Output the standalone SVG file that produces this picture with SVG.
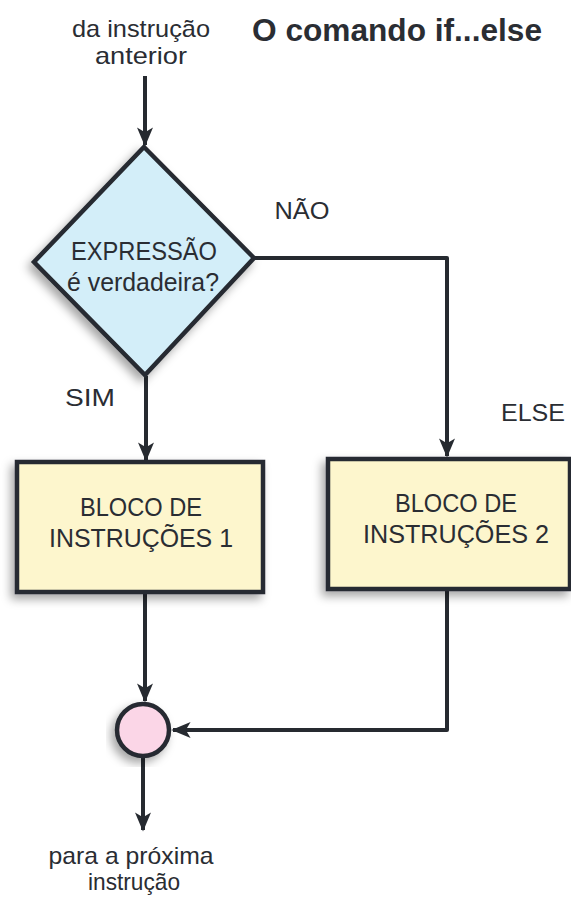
<svg xmlns="http://www.w3.org/2000/svg" width="571" height="900" viewBox="0 0 571 900">
<style>
text{font-family:"Liberation Sans",Arial,sans-serif;fill:#2a2d33;text-anchor:middle}
.lbl{font-size:24px}
.node{font-size:26px}
.ln{fill:none;stroke:#262a30;stroke-width:4;stroke-linejoin:round}
.shape{stroke:#262a30;stroke-width:4.5;filter:url(#sh)}
</style>
<defs>
<filter id="sh" x="-20%" y="-20%" width="140%" height="140%">
<feDropShadow dx="-4" dy="5" stdDeviation="5" flood-color="#000" flood-opacity="0.35"/>
</filter>
<marker id="ahb" viewBox="0 0 12 10" refX="11" refY="5" markerWidth="20" markerHeight="16" markerUnits="userSpaceOnUse" orient="auto">
<path d="M0,0 L12,5 L0,10 L3,5 z" fill="#262a30"/>
</marker>
</defs>
<text x="397" y="41" style="font-size:32px;font-weight:bold" textLength="290" lengthAdjust="spacingAndGlyphs">O comando if...else</text>
<g id="connectors">
<path class="ln" d="M145,76 V145" marker-end="url(#ahb)"/>
<path class="ln" d="M146,376 V460" marker-end="url(#ahb)"/>
<path class="ln" d="M255,258 H447 V456" marker-end="url(#ahb)"/>
<path class="ln" d="M145,593 V701" marker-end="url(#ahb)"/>
<path class="ln" d="M447,590 V730 H173" marker-end="url(#ahb)"/>
<path class="ln" d="M143,757 V830" marker-end="url(#ahb)"/>
</g>
<g id="start-label">
<text class="lbl" x="141" y="37" textLength="138" lengthAdjust="spacingAndGlyphs">da instrução</text>
<text class="lbl" x="141" y="64" textLength="92" lengthAdjust="spacingAndGlyphs">anterior</text>
</g>
<g id="decision">
<polygon class="shape" points="144,147 254,258 145,375 34,262" fill="#d3eef9"/>
<text class="node" x="144" y="260" textLength="146" lengthAdjust="spacingAndGlyphs">EXPRESSÃO</text>
<text class="node" x="143" y="291" textLength="152" lengthAdjust="spacingAndGlyphs">é verdadeira?</text>
</g>
<g id="label-nao"><text class="lbl" x="302" y="219" textLength="55" lengthAdjust="spacingAndGlyphs">NÃO</text></g>
<g id="label-sim"><text class="lbl" x="90" y="406" textLength="50" lengthAdjust="spacingAndGlyphs">SIM</text></g>
<g id="label-else"><text class="lbl" x="533" y="421" textLength="64" lengthAdjust="spacingAndGlyphs">ELSE</text></g>
<g id="block1">
<rect class="shape" x="17" y="462" width="246" height="130" fill="#fdf6cd"/>
<text class="node" x="141" y="516" textLength="122" lengthAdjust="spacingAndGlyphs">BLOCO DE</text>
<text class="node" x="141" y="547" textLength="184" lengthAdjust="spacingAndGlyphs">INSTRUÇÕES 1</text>
</g>
<g id="block2">
<rect class="shape" x="328" y="459" width="242" height="130" fill="#fdf6cd"/>
<text class="node" x="456" y="512" textLength="122" lengthAdjust="spacingAndGlyphs">BLOCO DE</text>
<text class="node" x="456" y="543" textLength="186" lengthAdjust="spacingAndGlyphs">INSTRUÇÕES 2</text>
</g>
<g id="join">
<circle class="shape" cx="143" cy="730" r="26" fill="#fbd6e7"/>
</g>
<g id="end-label">
<text class="lbl" x="131" y="864" textLength="165" lengthAdjust="spacingAndGlyphs">para a próxima</text>
<text class="lbl" x="134" y="890" textLength="92" lengthAdjust="spacingAndGlyphs">instrução</text>
</g>
</svg>
